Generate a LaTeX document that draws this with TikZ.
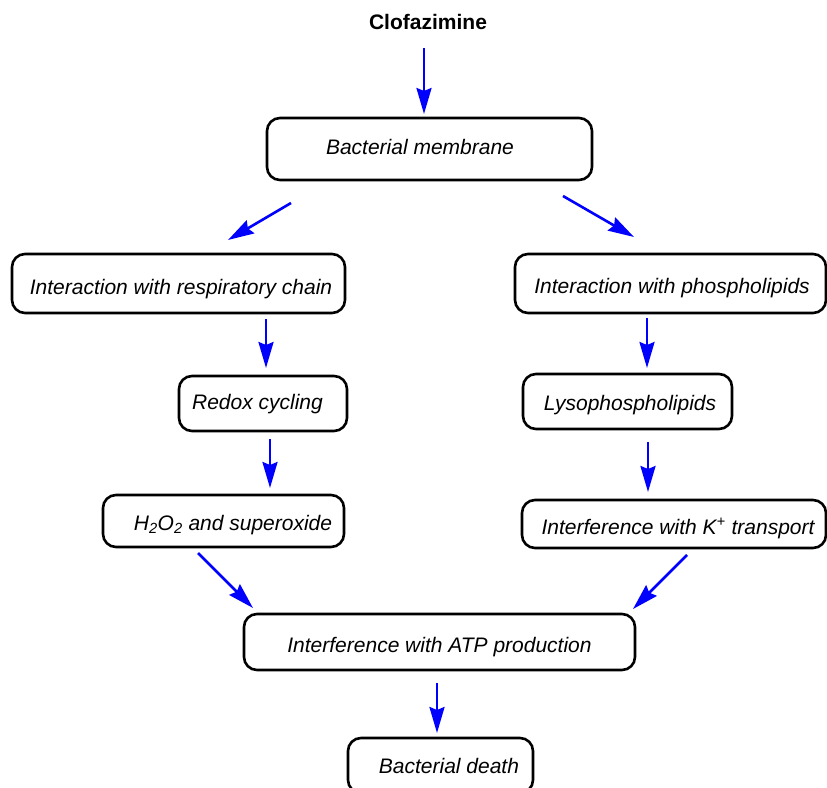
\documentclass[tikz,border=0pt]{standalone}
\usepackage{fontspec}
\setmainfont{Liberation Sans}
\usetikzlibrary{arrows.meta}
\newcommand{\lowtext}[2]{\raisebox{-#1}{#2}}
\begin{document}
\begin{tikzpicture}[x=1pt,y=-1pt,
  box/.style={draw=black,line width=2.6pt,rounded corners=13pt,inner xsep=1pt,inner ysep=0pt,
    text height=16pt,text depth=5pt,
    font=\fontsize{21}{25}\selectfont\itshape,anchor=center},
  flow/.style={draw=blue,line width=2.6pt,-{Stealth[length=26pt,width=15pt,inset=3pt]}},
  titletext/.style={font=\fontsize{21}{25}\selectfont\bfseries,inner sep=0pt}]
\path[use as bounding box] (0,0) rectangle (827,787);
\node[titletext] (clof) at (428,22) {Clofazimine};
\node[box,minimum width=325pt,minimum height=62pt] (mem) at (429.5,149) {Bacterial membrane\kern19pt};
\node[box,minimum width=333pt,minimum height=59pt] (resp) at (178.5,283.5) {\lowtext{5pt}{\kern5pt Interaction with respiratory chain}};
\node[box,minimum width=168pt,minimum height=55pt] (redox) at (263,403.5) {Redox cycling\kern11pt};
\node[box,minimum width=241pt,minimum height=52pt] (hoo) at (223.5,521) {\lowtext{4pt}{\kern19pt H\textsubscript{2}O\textsubscript{2} and superoxide}};
\node[box,minimum width=311pt,minimum height=59pt] (phos) at (670.5,283.5) {\lowtext{4pt}{\kern3pt Interaction with phospholipids}};
\node[box,minimum width=209pt,minimum height=55pt] (lyso) at (627.5,401.5) {\lowtext{3pt}{\kern5pt Lysophospholipids}};
\node[box,minimum width=304pt,minimum height=48pt] (kt) at (674,524) {\lowtext{5pt}{\kern8pt Interference with K\textsuperscript{+} transport}};
\node[box,minimum width=391pt,minimum height=56pt] (atp) at (439.5,642) {\lowtext{5pt}{Interference with ATP production}};
\node[box,minimum width=185pt,minimum height=55pt] (death) at (440.5,765.5) {\lowtext{2pt}{\kern17pt Bacterial death}};
\coordinate (a1s) at (424,48);  \coordinate (a1e) at (424,114);
\coordinate (a2s) at (291,203); \coordinate (a2e) at (228,240);
\coordinate (a3s) at (563,196); \coordinate (a3e) at (634,237);
\coordinate (a4s) at (266,319); \coordinate (a4e) at (266,368);
\coordinate (a5s) at (270,439); \coordinate (a5e) at (270,488);
\coordinate (a6s) at (647,318); \coordinate (a6e) at (647,368);
\coordinate (a7s) at (648,442); \coordinate (a7e) at (648,492);
\coordinate (a8s) at (198,553); \coordinate (a8e) at (253,608);
\coordinate (a9s) at (687,555); \coordinate (a9e) at (633,609);
\coordinate (a10s) at (437,683); \coordinate (a10e) at (437,733);
\draw[flow] (a1s) -- (a1e);
\draw[flow] (a2s) -- (a2e);
\draw[flow] (a3s) -- (a3e);
\draw[flow] (a4s) -- (a4e);
\draw[flow] (a5s) -- (a5e);
\draw[flow] (a6s) -- (a6e);
\draw[flow] (a7s) -- (a7e);
\draw[flow] (a8s) -- (a8e);
\draw[flow] (a9s) -- (a9e);
\draw[flow] (a10s) -- (a10e);
\end{tikzpicture}
\end{document}
